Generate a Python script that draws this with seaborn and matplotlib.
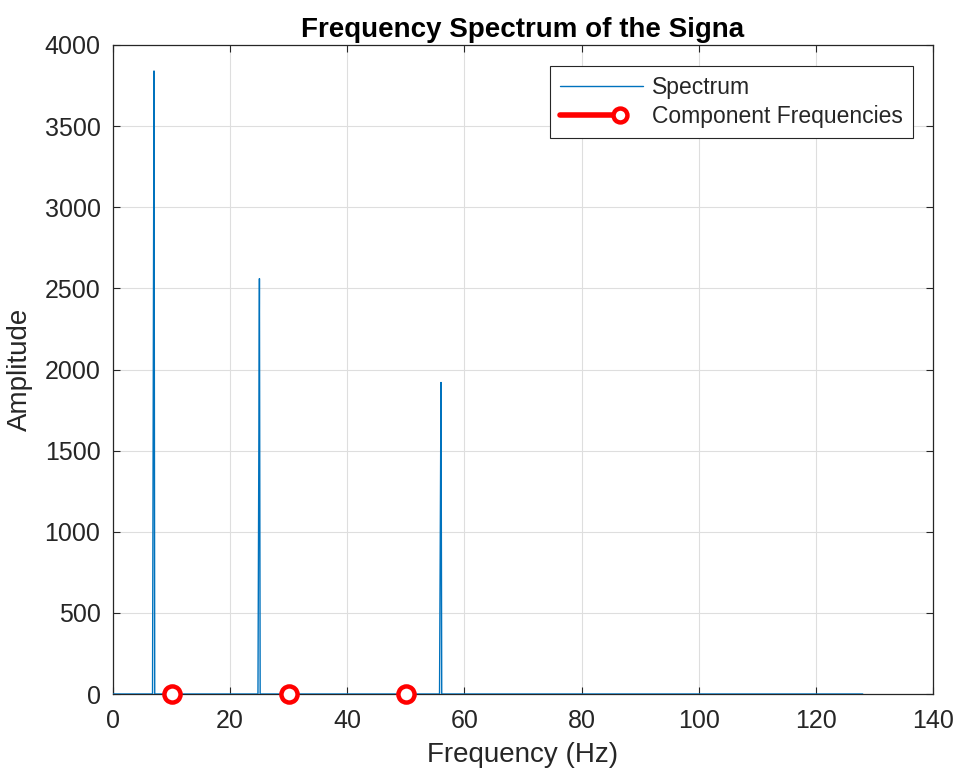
import matplotlib
matplotlib.use("Agg")
import matplotlib.pyplot as plt
from matplotlib import font_manager as fm
from matplotlib.lines import Line2D
from matplotlib.legend_handler import HandlerLine2D
import seaborn as sns
import pandas as pd

# Spectrum (frequency in Hz, amplitude)
spec_freq = [0, 6.75, 6.875, 7.0, 7.125, 24.75, 24.875, 25.0, 25.125,
             55.75, 55.875, 56.0, 56.125, 128]
spec_amp = [0, 0, 1920, 3840, 0, 0, 1280, 2560, 0,
            0, 960, 1920, 0, 0]

# Component frequencies
comp_freq = [10, 30, 50]
comp_amp = [0, 0, 0]

x_ticks = [0, 20, 40, 60, 80, 100, 120, 140]
y_ticks = [0, 500, 1000, 1500, 2000, 2500, 3000, 3500, 4000]

sns.set_theme(style="whitegrid")

# pick the regular (non-narrow) Liberation Sans explicitly
fam = 'DejaVu Sans'
for f in fm.findSystemFonts():
    base = f.split('/')[-1]
    if base in ('LiberationSans-Regular.ttf', 'LiberationSans-Bold.ttf'):
        fm.fontManager.addfont(f)
        fam = fm.FontProperties(fname=f).get_name()
fm.fontManager.ttflist = [fe for fe in fm.fontManager.ttflist if 'Narrow' not in fe.name]
plt.rcParams['font.family'] = [fam, 'DejaVu Sans']

fig = plt.figure(figsize=(9.6, 7.72), dpi=100)
ax = fig.add_axes([113/960, 1 - 694/772, (933 - 113)/960, (694 - 45)/772])
ax.set_facecolor('white')

df = pd.DataFrame({'Frequency': spec_freq, 'Amplitude': spec_amp})
blue = '#0072BD'
sns.lineplot(data=df, x='Frequency', y='Amplitude', ax=ax, color=blue,
             linewidth=1.0, estimator=None, sort=False, zorder=3)
sns.scatterplot(x=comp_freq, y=comp_amp, ax=ax, marker='o', s=135,
                facecolor='white', edgecolor='red', linewidth=3.2, zorder=4,
                clip_on=False)

ax.set_xlim(0, 140)
ax.set_ylim(0, 4000)
ax.set_xticks(x_ticks)
ax.set_yticks(y_ticks)
ax.tick_params(axis='both', labelsize=18, colors='#262626', direction='in',
               length=5, width=0.8, top=True, right=True, bottom=True, left=True)
ax.tick_params(axis='x', pad=11)
ax.tick_params(axis='y', pad=9)
ax.grid(True, color='#dedede', linewidth=0.8)
for sp in ax.spines.values():
    sp.set_visible(True)
    sp.set_color('#262626')
    sp.set_linewidth(0.9)

ax.set_xlabel('Frequency (Hz)', fontsize=20, color='#262626', labelpad=6)
ax.set_ylabel('Amplitude', fontsize=20, color='#262626', labelpad=8)
ax.set_title('Frequency Spectrum of the Signa', fontsize=20, fontweight='bold',
             color='black', pad=6)


class EndMarkerHandler(HandlerLine2D):
    def create_artists(self, legend, orig_handle, xdescent, ydescent, width,
                       height, fontsize, trans):
        arts = super().create_artists(legend, orig_handle, xdescent, ydescent,
                                      width, height, fontsize, trans)
        for a in arts:
            xd = list(a.get_xdata())
            yd = list(a.get_ydata())
            x0 = xd[0]
            x1 = x0 + 0.72 * (xd[-1] - x0)
            a.set_data([x0, x1], [yd[0], yd[0]])
            a.set_markevery([1])
        return arts


spec_handle = Line2D([], [], color=blue, linewidth=1.0)
comp_handle = Line2D([], [], color='red', linewidth=4, marker='o', markersize=10,
                     markerfacecolor='white', markeredgecolor='red',
                     markeredgewidth=3.2)
leg = ax.legend([spec_handle, comp_handle], ['Spectrum', 'Component Frequencies'],
                loc='upper right',
                bbox_to_anchor=(913/960, 1 - 66/772), bbox_transform=fig.transFigure,
                fontsize=16.5, frameon=True, fancybox=False, framealpha=1,
                handlelength=3.6, borderpad=0.45, labelspacing=0.25,
                handletextpad=0.4, borderaxespad=0,
                handler_map={comp_handle: EndMarkerHandler()})
leg.get_frame().set_edgecolor('#262626')
leg.get_frame().set_linewidth(0.8)

fig.savefig('out.png', dpi=100)
